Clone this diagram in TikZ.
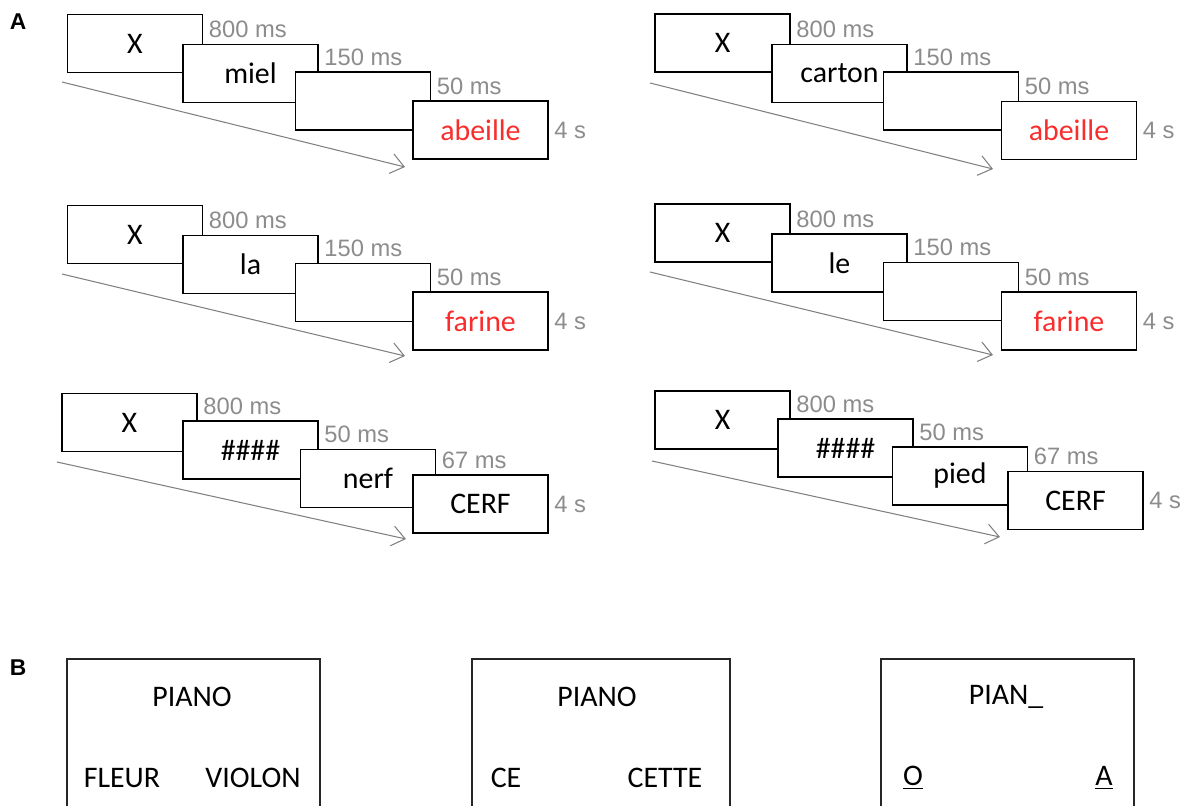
\documentclass[tikz,border=0pt]{standalone}
\usepackage{fontspec}
\setmainfont{Carlito}
\newfontfamily\durfont{Liberation Sans}
\usetikzlibrary{arrows.meta}
\definecolor{durgray}{RGB}{140,140,140}
\definecolor{targetred}{RGB}{250,45,45}
\tikzset{
	stim/.style={draw, fill=white, line width=0.9pt, minimum width=2.7cm, minimum height=1.16cm, inner sep=0pt, font=\fontsize{17}{20}\selectfont},
	dur/.style={anchor=south west, inner xsep=3pt, inner ysep=3pt, text=durgray, font=\durfont\fontsize{13.5}{16}\selectfont},
	durend/.style={dur, anchor=west},
	timeline/.style={draw=gray, line width=0.6pt, -{Straight Barb[length=2.6mm,width=4mm]}},
	panel/.style={font=\durfont\bfseries\fontsize{13}{15}\selectfont},
	screen/.style={draw=black!85, line width=0.8pt},
	choice/.style={font=\fontsize{17}{20}\selectfont}
}
\begin{document}
\begin{tikzpicture}[x=0.02cm, y=-0.02cm]
	\useasboundingbox (0,0) rectangle (1190,805);
	\node[panel] (A) at (18,22) {A};
	\node[panel] (B) at (18,668) {B};
	% top left
	\coordinate (tls) at (62,82); \coordinate (tle) at (405,167);
	\draw[timeline] (tls) -- (tle);
	\node[stim] (tl1) at (135,43.5) {X};
	\node[stim] (tl2) at (250.5,73.5) {miel};
	\node[stim] (tl3) at (363,101) {};
	\node[stim, text=targetred] (tl4) at (480.5,130) {abeille};
	\node[dur] (tl1d) at (tl1.east |- tl2.north) {800 ms};
	\node[dur] (tl2d) at (tl2.east |- tl3.north) {150 ms};
	\node[dur] (tl3d) at (tl3.east |- tl4.north) {50 ms};
	\node[durend] (tl4d) at (tl4.east) {4 s};
	% top right
	\coordinate (trs) at (650,83); \coordinate (tre) at (993,169);
	\draw[timeline] (trs) -- (tre);
	\node[stim] (tr1) at (722.5,43) {X};
	\node[stim] (tr2) at (839.5,73.5) {carton};
	\node[stim] (tr3) at (951,101) {};
	\node[stim, text=targetred] (tr4) at (1069,130.5) {abeille};
	\node[dur] (tr1d) at (tr1.east |- tr2.north) {800 ms};
	\node[dur] (tr2d) at (tr2.east |- tr3.north) {150 ms};
	\node[dur] (tr3d) at (tr3.east |- tr4.north) {50 ms};
	\node[durend] (tr4d) at (tr4.east) {4 s};
	% middle left
	\coordinate (mls) at (62,274); \coordinate (mle) at (405,356);
	\draw[timeline] (mls) -- (mle);
	\node[stim] (ml1) at (135,234.5) {X};
	\node[stim] (ml2) at (250.5,264.5) {la};
	\node[stim] (ml3) at (363,292.5) {};
	\node[stim, text=targetred] (ml4) at (480.5,321) {farine};
	\node[dur] (ml1d) at (ml1.east |- ml2.north) {800 ms};
	\node[dur] (ml2d) at (ml2.east |- ml3.north) {150 ms};
	\node[dur] (ml3d) at (ml3.east |- ml4.north) {50 ms};
	\node[durend] (ml4d) at (ml4.east) {4 s};
	% middle right
	\coordinate (mrs) at (650,272); \coordinate (mre) at (993,355);
	\draw[timeline] (mrs) -- (mre);
	\node[stim] (mr1) at (722.5,233) {X};
	\node[stim] (mr2) at (839.5,263) {le};
	\node[stim] (mr3) at (951,291.5) {};
	\node[stim, text=targetred] (mr4) at (1069,321) {farine};
	\node[dur] (mr1d) at (mr1.east |- mr2.north) {800 ms};
	\node[dur] (mr2d) at (mr2.east |- mr3.north) {150 ms};
	\node[dur] (mr3d) at (mr3.east |- mr4.north) {50 ms};
	\node[durend] (mr4d) at (mr4.east) {4 s};
	% bottom left
	\coordinate (bls) at (57,462); \coordinate (ble) at (406,539);
	\draw[timeline] (bls) -- (ble);
	\node[stim] (bl1) at (129.5,422.5) {X};
	\node[stim] (bl2) at (250.5,450) {\#\#\#\#};
	\node[stim] (bl3) at (368,478.5) {nerf};
	\node[stim] (bl4) at (480.5,504) {CERF};
	\node[dur] (bl1d) at (bl1.east |- bl2.north) {800 ms};
	\node[dur] (bl2d) at (bl2.east |- bl3.north) {50 ms};
	\node[dur] (bl3d) at (bl3.east |- bl4.north) {67 ms};
	\node[durend] (bl4d) at (bl4.east) {4 s};
	% bottom right
	\coordinate (brs) at (652,461); \coordinate (bre) at (1000,537);
	\draw[timeline] (brs) -- (bre);
	\node[stim] (br1) at (722.5,420) {X};
	\node[stim] (br2) at (845.5,448) {\#\#\#\#};
	\node[stim] (br3) at (960,476) {pied};
	\node[stim] (br4) at (1075.5,500.5) {CERF};
	\node[dur] (br1d) at (br1.east |- br2.north) {800 ms};
	\node[dur] (br2d) at (br2.east |- br3.north) {50 ms};
	\node[dur] (br3d) at (br3.east |- br4.north) {67 ms};
	\node[durend] (br4d) at (br4.east) {4 s};
	% B screens
	\draw[screen] (67,806) -- (67,659) -- (320,659) -- (320,806);
	\draw[screen] (472,806) -- (472,659) -- (730,659) -- (730,806);
	\draw[screen] (881,806) -- (881,659) -- (1134,659) -- (1134,806);
	\node[choice] (s1) at (192,697) {PIANO};
	\node[choice] (s1a) at (122,778) {FLEUR};
	\node[choice] (s1b) at (253,778) {VIOLON};
	\node[choice] (s2) at (597,697) {PIANO};
	\node[choice] (s2a) at (506,778) {CE};
	\node[choice] (s2b) at (665,778) {CETTE};
	\node[choice] (s3) at (1006,697) {PIAN\_};
	\node[choice] (s3a) at (913,778) {\underline{O}};
	\node[choice] (s3b) at (1104,778) {\underline{A}};
\end{tikzpicture}
\end{document}
